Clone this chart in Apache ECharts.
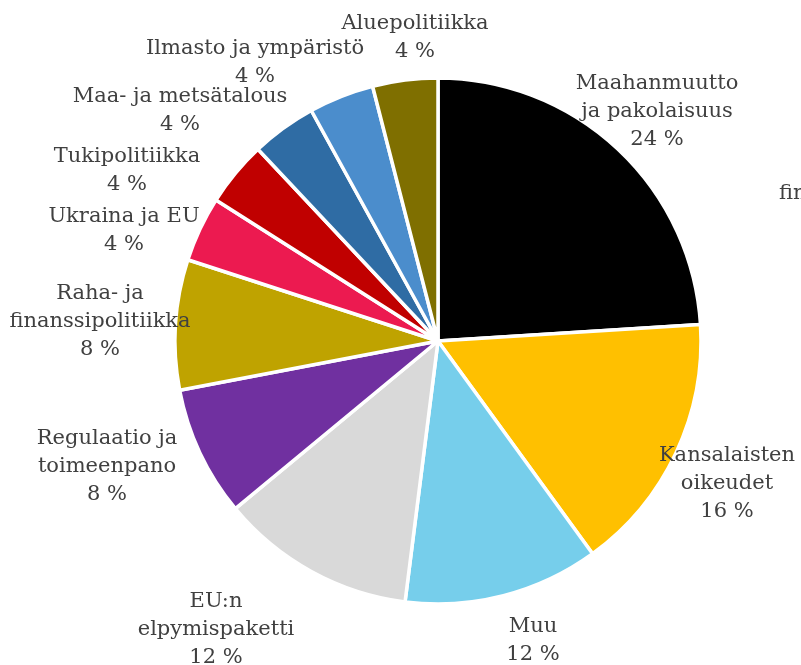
<!DOCTYPE html>
<html>
<head>
<meta charset="utf-8">
<script src="https://cdn.jsdelivr.net/npm/echarts@6/dist/echarts.min.js"></script>
<style>
  html, body { margin: 0; padding: 0; background: #fff; }
  #main { width: 801px; height: 665px; }
</style>
</head>
<body>
<div id="main"></div>
<script>
var categories = [
    'Maahanmuutto\nja pakolaisuus',
    'Kansalaisten\noikeudet',
    'Muu',
    'EU:n\nelpymispaketti',
    'Regulaatio ja\ntoimeenpano',
    'Raha- ja\nfinanssipolitiikka',
    'Ukraina ja EU',
    'Tukipolitiikka',
    'Maa- ja metsätalous',
    'Ilmasto ja ympäristö',
    'Aluepolitiikka'
];
var shares = [24, 16, 12, 12, 8, 8, 4, 4, 4, 4, 4];
var colors = ['#000000', '#FFC000', '#76CEEB', '#D9D9D9', '#7030A0', '#BFA300',
              '#EC1A50', '#C00000', '#2F6CA4', '#4B8DCC', '#7F6F00'];

// where the data labels sit (label centres, like the original best-fit layout)
var labelSpots = [
    [657, 112], [727, 484], [533, 641], [216, 630], [107, 467], [100, 322],
    [124, 231], [127, 171], [180, 111], [255, 63], [415, 38]
];

var myChart = echarts.init(document.getElementById('main'));

var option = {
    backgroundColor: '#fff',
    animation: false,
    graphic: [{
        type: 'text',
        left: 779,
        top: 183,
        style: { text: 'fin', font: '21px "DejaVu Serif"', fill: '#404040' }
    }],
    series: [{
        type: 'pie',
        center: [438, 341],
        radius: 263,
        startAngle: 90,
        clockwise: true,
        avoidLabelOverlap: false,
        itemStyle: { borderColor: '#fff', borderWidth: 3.5 },
        label: {
            show: true,
            position: 'outside',
            formatter: '{b}\n{c} %',
            fontFamily: 'DejaVu Serif',
            fontSize: 21,
            lineHeight: 28,
            color: '#404040',
            align: 'center'
        },
        labelLine: { show: false },
        labelLayout: function (params) {
            var p = labelSpots[params.dataIndex];
            return { x: p[0], y: p[1], align: 'center', verticalAlign: 'middle' };
        },
        emphasis: { disabled: true },
        data: categories.map(function (name, i) {
            return { name: name, value: shares[i], itemStyle: { color: colors[i] } };
        })
    }]
};

myChart.setOption(option);
</script>
</body>
</html>
